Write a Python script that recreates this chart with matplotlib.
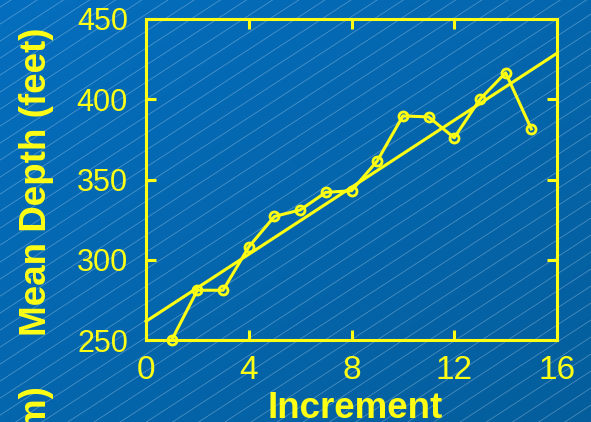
import numpy as np
import matplotlib
matplotlib.use("Agg")
import matplotlib.pyplot as plt

# mean depth per increment
increment = [1, 2, 3, 4, 5, 6, 7, 8, 9, 10, 11, 12, 13, 14, 15]
mean_depth = [250, 281, 281, 308, 327, 331, 342, 343, 361.5, 389.6, 389, 376, 400, 416.5, 381.5]
x_ticks = [0, 4, 8, 12, 16]
y_ticks = [250, 300, 350, 400, 450]

YELLOW = "#ffff14"
W, H = 591, 422

plt.rcParams['font.family'] = ['Liberation Sans', 'DejaVu Sans']

fig = plt.figure(figsize=(W / 100, H / 100), dpi=100)

# blue backdrop with thin diagonal pinstripes
bg = fig.add_axes([0, 0, 1, 1], zorder=0)
gx, gy = np.meshgrid(np.linspace(0, 1, 200), np.linspace(0, 1, 150))
t = (gx + gy) / 2
c0 = np.array([4, 110, 190]) / 255
c1 = np.array([4, 94, 156]) / 255
grad = c0[None, None, :] * (1 - t[..., None]) + c1[None, None, :] * t[..., None]
bg.imshow(grad, extent=[0, W, H, 0], aspect='auto')
slope = 0.65
for c in np.arange(-slope * W, H + 20, 17):
    xs = np.array([0, W])
    bg.plot(xs, H - (slope * xs + c), color='white', lw=0.55, alpha=0.3)
bg.set_xlim(0, W)
bg.set_ylim(H, 0)
bg.axis('off')

ax = fig.add_axes([146 / W, 1 - 340 / H, (557 - 146) / W, (340 - 19) / H], zorder=1)
ax.set_facecolor('none')

x = np.array(increment)
y = np.array(mean_depth)
k, b = np.polyfit(x, y, 1)
xf = np.array([0, 16])
ax.plot(xf, k * xf + b, color=YELLOW, lw=2.2, clip_on=False)
ax.plot(x, y, color=YELLOW, lw=2.2, marker='o', ms=6.5, mfc='none', mew=2, clip_on=False)

ax.set_xlim(0, 16)
ax.set_ylim(250, 450)
ax.set_xticks(x_ticks)
ax.set_yticks(y_ticks)
for s in ax.spines.values():
    s.set_color(YELLOW)
    s.set_linewidth(2.2)
ax.tick_params(direction='in', length=7, width=2.2, color=YELLOW,
               top=True, right=True, labelcolor=YELLOW)
ax.tick_params(axis='x', labelsize=24, pad=11)
ax.tick_params(axis='y', labelsize=22, pad=13)

fig.text(37 / W, 1 - 182 / H, "Mean Depth (feet)", rotation=90, color=YELLOW,
         fontsize=26.5, fontweight='bold', ha='center', va='center')
fig.text(355 / W, 1 - 418 / H, "Increment", color=YELLOW,
         fontsize=26.5, fontweight='bold', ha='center', va='baseline')
fig.text(37 / W, 1 - 386 / H, "Mean Depth (m)", rotation=90, color=YELLOW,
         fontsize=26.5, fontweight='bold', ha='center', va='top')

fig.savefig("out.png", dpi=100)
